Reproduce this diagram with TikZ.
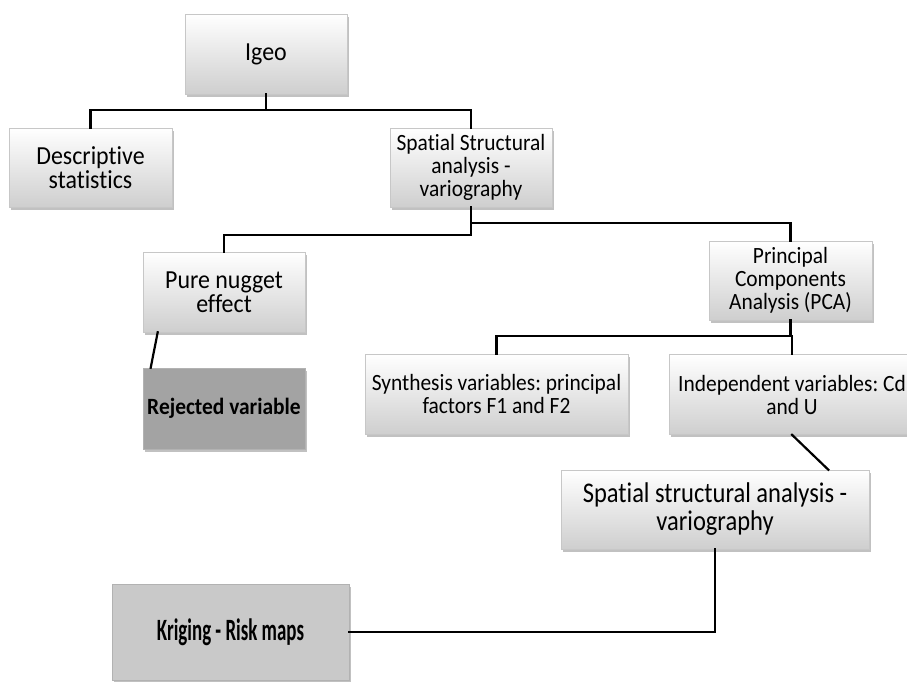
\documentclass[tikz,border=0pt]{standalone}
\usepackage{fontspec}
\setmainfont{Carlito}[FakeStretch=0.92,Ligatures=NoCommon]
\newfontfamily\narrowfont[FakeStretch=0.86,Ligatures=NoCommon]{Carlito}
\newfontfamily\narrowerfont[FakeStretch=0.61,Ligatures=NoCommon]{Carlito}
\usetikzlibrary{shadows}
\frenchspacing

\tikzset{
  shadowed/.style={drop shadow={shadow xshift=1.5pt,shadow yshift=-2.5pt,opacity=0.35,fill=black!70}},
  box/.style={draw=black!22,line width=0.6pt,top color=white,bottom color=black!19,
    shadowed,align=center,inner sep=1pt,font=\fontsize{23.3}{23}\selectfont},
  graybox/.style={draw=black!30,line width=0.6pt,fill=#1,shadowed,align=center,inner sep=1pt},
  bigtext/.style={font=\fontsize{26}{24.5}\selectfont},
  conn/.style={line width=2.2pt,line cap=rect,line join=miter}
}

\begin{document}
\begin{tikzpicture}[x=1pt,y=-1pt]

\useasboundingbox (0,0) rectangle (907,681);
\clip (0,0) rectangle (907,681);

%first row
\node[box,bigtext,minimum width=162pt,minimum height=80pt] (igeo) at (266,54) {Igeo};
\node[box,bigtext,minimum width=163pt,minimum height=79pt] (desc) at (90.5,167.5) {Descriptive\\statistics};
\node[box,minimum width=162pt,minimum height=79pt] (spat) at (471,167.5) {Spatial Structural\\analysis -\\variography};

%second row
\node[box,bigtext,minimum width=162pt,minimum height=80pt] (nugget) at (224,292) {Pure nugget\\effect};
\node[box,minimum width=163pt,minimum height=79pt] (pca) at (790.5,280.5) {Principal\\Components\\Analysis (PCA)};

%third row
\node[graybox=black!36,minimum width=162pt,minimum height=81pt,font=\fontsize{23.3}{23}\selectfont\bfseries] (reject) at (224,408.5) {Rejected variable};
\node[box,minimum width=263pt,minimum height=80pt] (synth) at (496.5,394) {Synthesis variables: principal\\factors F1 and F2};
\node[box,minimum width=246pt,minimum height=80pt] (indep) at (792,394.5) {Independent variables: Cd\\and U};

%bottom
\node[box,minimum width=308pt,minimum height=79pt,font=\fontsize{28.5}{28}\narrowfont] (spattwo) at (715,509.5) {Spatial structural analysis -\\variography};
\node[graybox=black!21,minimum width=237pt,minimum height=96pt,font=\fontsize{31}{29}\narrowerfont\bfseries] (krig) at (230.5,632) {Kriging - Risk maps};

%connectors
\draw[conn] (igeo.south) -- ++(0,16) coordinate (j1);
\draw[conn] (desc.north) |- (j1) -| (spat.north);
\draw[conn] (spat.south) -- ++(0,28) -| (nugget.north);
\draw[conn] (spat.south) ++(0,16) -| (pca.north);
\draw[conn] (pca.south) -- ++(0,16) coordinate (j2);
\draw[conn] (synth.north) |- (j2) -| (indep.north);
\draw[conn] ([xshift=15pt]nugget.south west) -- ([xshift=8pt]reject.north west);
\draw[conn] (indep.south) -- ([xshift=-41pt]spattwo.north east);
\draw[conn] (spattwo.south) |- (krig.east);

\end{tikzpicture}
\end{document}
